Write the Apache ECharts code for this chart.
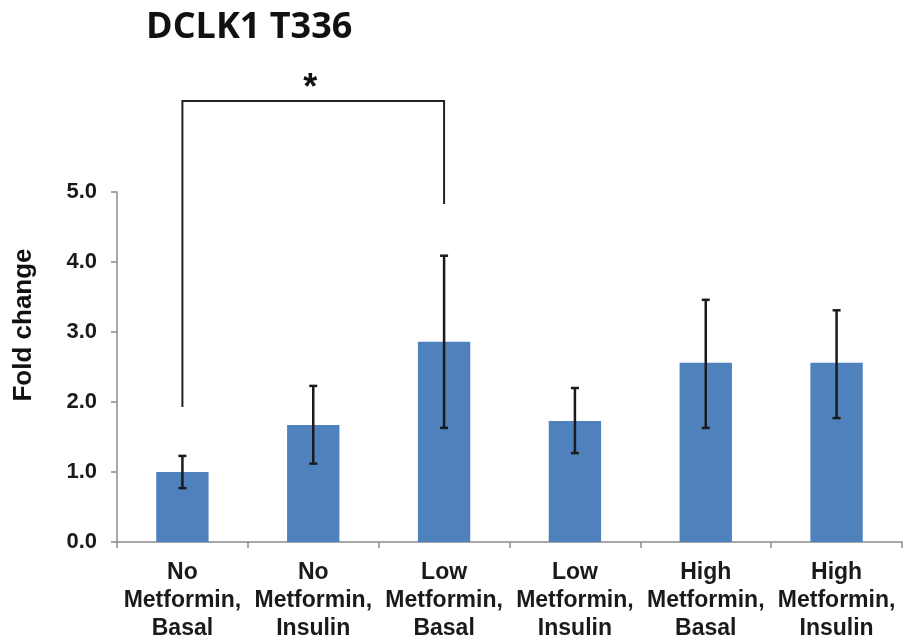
<!DOCTYPE html>
<html>
<head>
<meta charset="utf-8">
<script src="https://cdn.jsdelivr.net/npm/echarts@6/dist/echarts.min.js"></script>
<style>html,body{margin:0;padding:0;background:#fff}#c{width:904px;height:643px}</style>
</head>
<body>
<div id="c"></div>
<script>
var categories = ['No\nMetformin,\nBasal','No\nMetformin,\nInsulin','Low\nMetformin,\nBasal','Low\nMetformin,\nInsulin','High\nMetformin,\nBasal','High\nMetformin,\nInsulin'];
var means = [1.00, 1.67, 2.86, 1.73, 2.56, 2.56];
var errLow = [0.77, 1.12, 1.63, 1.27, 1.63, 1.77];
var errHigh = [1.23, 2.23, 4.09, 2.20, 3.46, 3.31];
var yTicks = [0, 1, 2, 3, 4, 5];
// significance bracket: [fromIndex, toIndex, leftFootY, rightFootY, topY, label]
var bracket = [0, 2, 1.93, 4.83, 6.3, '*'];

var chart = echarts.init(document.getElementById('c'));
var errData = categories.map(function(c, i){ return [i, errLow[i], errHigh[i]]; });
chart.setOption({
  animation: false,
  title: {
    text: 'DCLK1 T336', left: 141, top: 5,
    textStyle: {fontFamily: 'Open Sans', fontWeight: 'bold', fontSize: 36, color: '#111'}
  },
  grid: {left: 117, right: 2, top: 192, bottom: 101, containLabel: false},
  xAxis: {
    type: 'category', data: categories,
    axisLine: {lineStyle: {color: '#8c8c8c', width: 1.5}},
    axisTick: {show: true, length: 6, lineStyle: {color: '#8c8c8c', width: 1.5}},
    axisLabel: {interval: 0, margin: 17, fontFamily: 'Liberation Sans', fontWeight: 'bold', fontSize: 23, lineHeight: 28, color: '#1a1a1a'}
  },
  yAxis: {
    type: 'value', min: 0, max: 5, interval: 1,
    name: 'Fold change', nameLocation: 'middle', nameGap: 80, nameRotate: 90,
    nameTextStyle: {fontFamily: 'Liberation Sans', fontWeight: 'bold', fontSize: 26, color: '#111', padding: [0, 0, 0, 84]},
    splitLine: {show: false},
    axisLine: {show: true, lineStyle: {color: '#8c8c8c', width: 1.5}},
    axisTick: {show: true, length: 6, lineStyle: {color: '#8c8c8c', width: 1.5}},
    axisLabel: {margin: 20, fontFamily: 'Liberation Sans', fontWeight: 'bold', fontSize: 22, color: '#1a1a1a',
      formatter: function(v){ return v.toFixed(1); }}
  },
  series: [
    {type: 'bar', data: means, barWidth: '40%', itemStyle: {color: '#4f81bd'}},
    {type: 'custom', data: errData, z: 5,
      renderItem: function(params, api){
        var x = api.value(0);
        var lo = api.coord([x, api.value(1)]);
        var hi = api.coord([x, api.value(2)]);
        var w = 4;
        var st = {stroke: '#1a1a1a', lineWidth: 2.5};
        return {type: 'group', children: [
          {type: 'line', shape: {x1: lo[0], y1: lo[1], x2: hi[0], y2: hi[1]}, style: st},
          {type: 'line', shape: {x1: lo[0]-w, y1: lo[1], x2: lo[0]+w, y2: lo[1]}, style: st},
          {type: 'line', shape: {x1: hi[0]-w, y1: hi[1], x2: hi[0]+w, y2: hi[1]}, style: st}
        ]};
      }
    },
    {type: 'custom', data: [bracket], clip: false, z: 6,
      renderItem: function(params, api){
        var a = api.value(0), b = api.value(1);
        var pL = api.coord([a, api.value(2)]);
        var pR = api.coord([b, api.value(3)]);
        var tL = api.coord([a, api.value(4)]);
        var tR = api.coord([b, api.value(4)]);
        return {type: 'group', children: [
          {type: 'polyline', shape: {points: [pL, tL, tR, pR]}, style: {stroke: '#222', lineWidth: 2, fill: null}},
          {type: 'text', style: {text: bracket[5], x: (tL[0]+tR[0])/2 - 3, y: tL[1] - 12, align: 'center', verticalAlign: 'middle',
            font: 'bold 36px "Liberation Sans"', fill: '#111'}}
        ]};
      }
    }
  ]
});
</script>
</body>
</html>
